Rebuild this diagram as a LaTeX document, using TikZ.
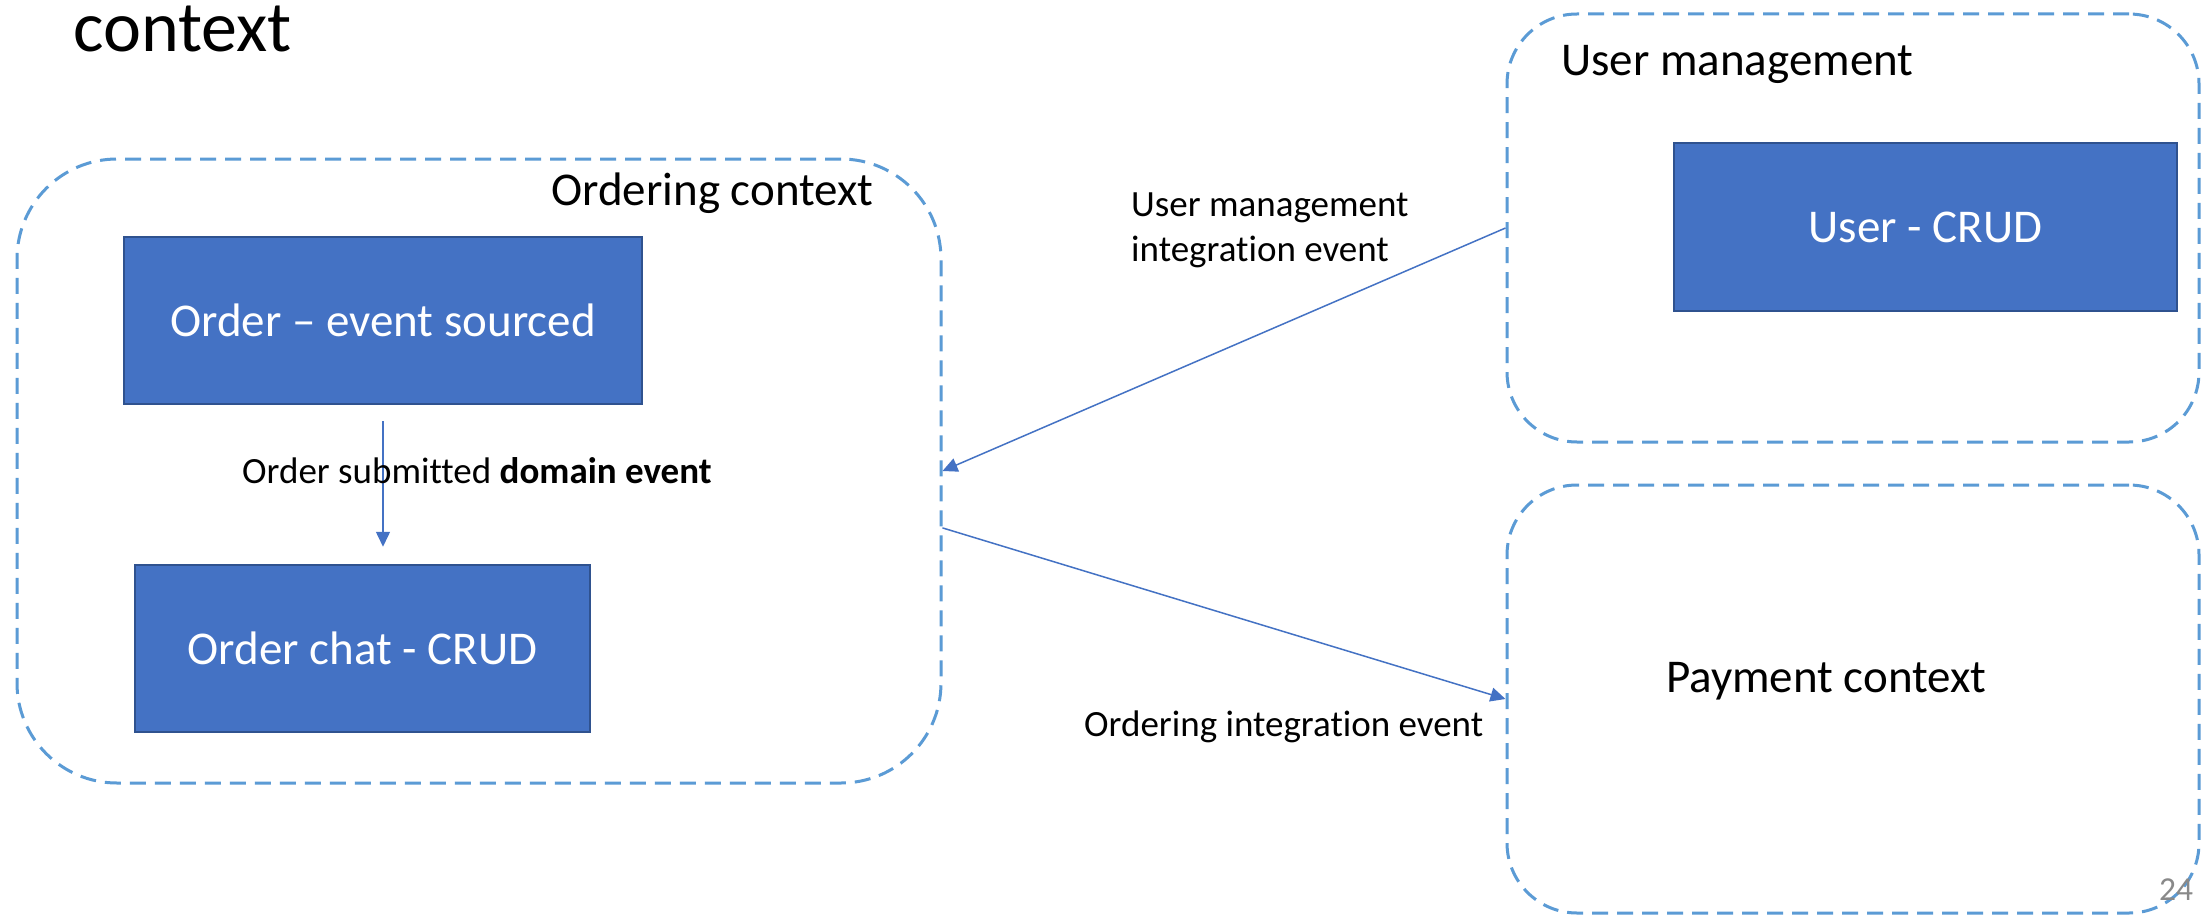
\documentclass[tikz,border=0pt]{standalone}
\usepackage{fontspec}
\setmainfont{Carlito}[Ligatures={NoCommon,NoRare,NoContextual}]
\usetikzlibrary{arrows.meta}
\definecolor{boxblue}{HTML}{4472C4}
\definecolor{boxedge}{HTML}{2F528F}
\definecolor{ctxblue}{HTML}{5B9BD5}
\definecolor{numgray}{HTML}{898989}
\begin{document}
\begin{tikzpicture}[x=1pt,y=-1pt,
  ctx/.style={draw=ctxblue, line width=3pt, dash pattern=on 16pt off 9pt, inner sep=0pt},
  entity/.style={fill=boxblue, draw=boxedge, line width=2.5pt, text=white, inner sep=0pt,
                 font=\fontsize{47}{56}\selectfont},
  flow/.style={draw=boxblue, line width=1.5pt, -{Triangle[length=15pt,width=14pt]}},
  lbl/.style={inner sep=0pt, font=\fontsize{37}{45}\selectfont},
  ctxlbl/.style={inner sep=0pt, font=\fontsize{47}{56}\selectfont}]
  \useasboundingbox (0,0) rectangle (2208,915);
  \fill[white] (0,0) rectangle (2208,915);

  % bounded contexts
  \node[ctx, rounded corners=100pt, minimum width=924pt, minimum height=624pt] (ord) at (479,471) {};
  \node[ctx, rounded corners=70pt, minimum width=692pt, minimum height=428pt] (um) at (1853,228) {};
  \node[ctx, rounded corners=70pt, minimum width=692pt, minimum height=428pt] (pay) at (1853,699) {};

  % aggregates
  \node[entity, minimum width=518pt, minimum height=167pt] (order) at (383,320.5) {Order – event sourced};
  \node[entity, minimum width=455pt, minimum height=167pt] (chat) at (362.5,648.5) {Order chat - CRUD};
  \node[entity, minimum width=503pt, minimum height=168pt] (user) at (1925.5,227) {User - CRUD};

  % headings
  \node[anchor=base west, inner sep=0pt, font=\fontsize{72}{86}\selectfont] (title) at (73,52) {context};
  \node[ctxlbl, anchor=base west] (ordlbl) at (551,205) {Ordering context};
  \node[ctxlbl, anchor=base west] (umlbl) at (1561,76) {User management};
  \node[ctxlbl, anchor=base west] (paylbl) at (1666,692) {Payment context};
  \node[anchor=base west, inner sep=0pt, text=numgray, font=\fontsize{33.5}{40}\selectfont] (pageno) at (2159,900) {24};

  % events
  \draw[flow, shorten <=16pt, shorten >=17pt] (order.south) -- (order.south |- chat.north);
  \node[lbl, anchor=base west] (domlbl) at (242,483) {Order submitted \textbf{domain event}};

  \draw[flow] (um.west) -- (ord.east);
  \node[lbl, anchor=base west] (umevt) at (1131,216)
    {\begin{tabular}[t]{@{}l@{}}User management\\integration event\end{tabular}};

  \draw[flow] (ord.-7.4) -- (pay.west);
  \node[lbl, anchor=base west] (ordevt) at (1084,736) {Ordering integration event};
\end{tikzpicture}
\end{document}
